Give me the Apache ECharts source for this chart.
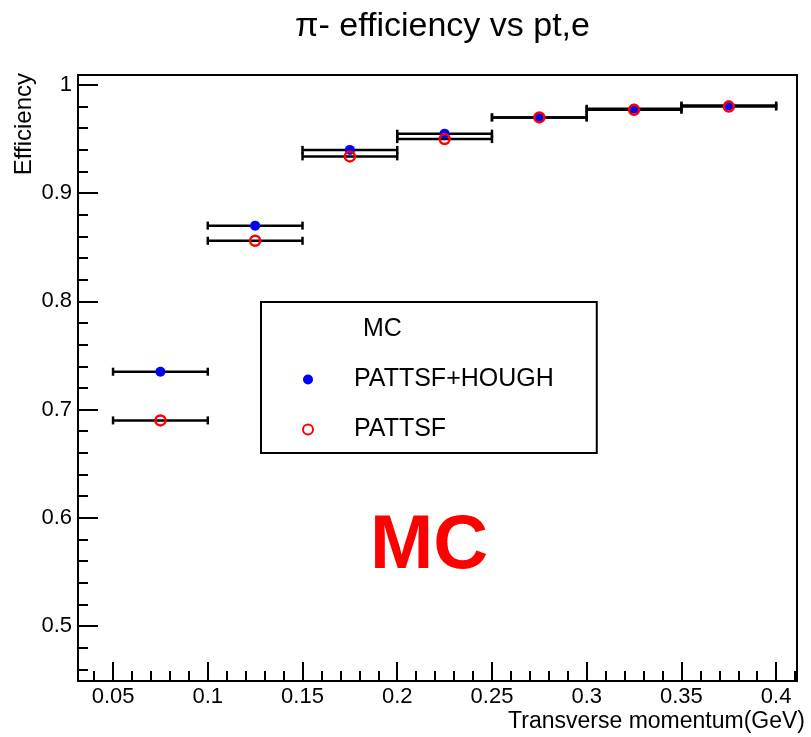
<!DOCTYPE html>
<html><head><meta charset="utf-8">
<script src="https://cdn.jsdelivr.net/npm/echarts@6/dist/echarts.min.js"></script>
<style>html,body{margin:0;padding:0;background:#fff}#c{width:811px;height:737px}</style>
</head><body><div id="c"></div>
<script>
// ---- data ----
const binEdges = [0.05, 0.10, 0.15, 0.20, 0.25, 0.30, 0.35, 0.40];
const effHough = [0.735, 0.870, 0.940, 0.955, 0.970, 0.978, 0.981];
const effPattsf = [0.690, 0.856, 0.934, 0.950, 0.970, 0.977, 0.980];
const seriesNames = ['PATTSF+HOUGH', 'PATTSF'];
const xTickLabels = [0.05, 0.1, 0.15, 0.2, 0.25, 0.3, 0.35, 0.4];
const yTickLabels = [0.5, 0.6, 0.7, 0.8, 0.9, 1];
const xMinorTicks = [0.04,0.06,0.07,0.08,0.09,0.11,0.12,0.13,0.14,0.16,0.17,0.18,0.19,0.21,0.22,0.23,0.24,0.26,0.27,0.28,0.29,0.31,0.32,0.33,0.34,0.36,0.37,0.38,0.39,0.41];
const yMinorTicks = [0.46,0.48,0.52,0.54,0.56,0.58,0.62,0.64,0.66,0.68,0.72,0.74,0.76,0.78,0.82,0.84,0.86,0.88,0.92,0.94,0.96,0.98];
const titleText = 'π- efficiency vs pt,e';
const xTitle = 'Transverse momentum(GeV)';
const yTitle = 'Efficiency';
const legendHeader = 'MC';
const stamp = 'MC';

const X_MIN = 0.0315, X_MAX = 0.411, Y_MIN = 0.4492, Y_MAX = 1.0092;
const FONT = 'Liberation Sans, Arial, Helvetica, sans-serif';

function errData(vals) {
  return vals.map((v, i) => [binEdges[i], binEdges[i + 1], v]);
}
function ptData(vals) {
  return vals.map((v, i) => [(binEdges[i] + binEdges[i + 1]) / 2, v]);
}
function renderErr(params, api) {
  const p1 = api.coord([api.value(0), api.value(2)]);
  const p2 = api.coord([api.value(1), api.value(2)]);
  const cap = 4;
  const style = { stroke: '#000', lineWidth: 2.5 };
  return { type: 'group', children: [
    { type: 'line', shape: { x1: p1[0], y1: p1[1], x2: p2[0], y2: p2[1] }, style },
    { type: 'line', shape: { x1: p1[0], y1: p1[1] - cap, x2: p1[0], y2: p1[1] + cap }, style },
    { type: 'line', shape: { x1: p2[0], y1: p2[1] - cap, x2: p2[0], y2: p2[1] + cap }, style }
  ]};
}

const chart = echarts.init(document.getElementById('c'), null, { renderer: 'canvas' });
const axisCommon = { lineStyle: { color: '#000', width: 2 } };
chart.setOption({
  animation: false,
  backgroundColor: '#fff',
  title: {
    text: titleText, left: 295, top: 10, padding: 0,
    textStyle: { fontFamily: FONT, fontSize: 34, fontWeight: 'normal', color: '#000' }
  },
  grid: {
    left: 78, right: 14, top: 75, bottom: 56, containLabel: false, outerBoundsMode: 'none',
    show: true, borderColor: '#000', borderWidth: 2, backgroundColor: '#fff'
  },
  xAxis: [{
    type: 'value', min: X_MIN, max: X_MAX, position: 'bottom',
    axisLine: { show: true, onZero: false, ...axisCommon },
    splitLine: { show: false },
    axisTick: { show: true, inside: true, length: 19, customValues: xTickLabels, lineStyle: { color: '#000', width: 2 } },
    axisLabel: { show: true, customValues: xTickLabels, margin: 5, color: '#000', fontFamily: FONT, fontSize: 22 }
  }, {
    type: 'value', min: X_MIN, max: X_MAX, position: 'bottom', gridIndex: 0,
    axisLine: { show: false }, splitLine: { show: false },
    axisTick: { show: true, inside: true, length: 10, customValues: xMinorTicks, lineStyle: { color: '#000', width: 2 } },
    axisLabel: { show: false }
  }],
  yAxis: [{
    type: 'value', min: Y_MIN, max: Y_MAX, position: 'left',
    axisLine: { show: true, onZero: false, ...axisCommon },
    splitLine: { show: false },
    axisTick: { show: true, inside: true, length: 20, customValues: yTickLabels, lineStyle: { color: '#000', width: 2 } },
    axisLabel: { show: true, customValues: yTickLabels, margin: 6, color: '#000', fontFamily: FONT, fontSize: 22 }
  }, {
    type: 'value', min: Y_MIN, max: Y_MAX, position: 'left', gridIndex: 0,
    axisLine: { show: false }, splitLine: { show: false },
    axisTick: { show: true, inside: true, length: 10, customValues: yMinorTicks, lineStyle: { color: '#000', width: 2 } },
    axisLabel: { show: false }
  }],
  legend: {
    orient: 'vertical', left: 261, top: 302,
    padding: [15, 43, 11, 41],
    itemWidth: 82, itemHeight: 10, itemGap: 25,
    selectedMode: false,
    backgroundColor: '#fff', borderColor: '#000', borderWidth: 2,
    textStyle: { fontFamily: FONT, fontSize: 25, color: '#000', lineHeight: 24 },
    data: [
      { name: legendHeader, icon: 'circle', itemStyle: { color: 'rgba(0,0,0,0)', borderWidth: 0 }, textStyle: { padding: [0, 0, 0, 9] } },
      { name: seriesNames[0], icon: 'circle', itemStyle: { color: '#0000ff', borderWidth: 0 } },
      { name: seriesNames[1], icon: 'circle', itemStyle: { color: 'rgba(0,0,0,0)', borderColor: '#ff0000', borderWidth: 2 } }
    ]
  },
  graphic: [
    { type: 'text', x: 24, y: 73, rotation: Math.PI / 2, z: 10,
      style: { text: yTitle, align: 'right', verticalAlign: 'middle', fill: '#000', font: '24px ' + FONT } },
    { type: 'text', x: 805, y: 722, z: 10,
      style: { text: xTitle, align: 'right', verticalAlign: 'middle', fill: '#000', font: '23px ' + FONT } },
    { type: 'text', x: 429, y: 547, z: 10,
      style: { text: stamp, align: 'center', verticalAlign: 'middle', fill: '#ff0000', font: 'bold 76px ' + FONT } }
  ],
  series: [
    { type: 'custom', name: 'errHough', renderItem: renderErr, data: errData(effHough), encode: { x: [0, 1], y: 2 }, z: 2, silent: true },
    { type: 'custom', name: 'errPattsf', renderItem: renderErr, data: errData(effPattsf), encode: { x: [0, 1], y: 2 }, z: 2, silent: true },
    { type: 'scatter', name: seriesNames[0], data: ptData(effHough), symbol: 'circle', symbolSize: 10,
      itemStyle: { color: '#0000ff', opacity: 1 }, z: 3 },
    { type: 'scatter', name: seriesNames[1], data: ptData(effPattsf), symbol: 'circle', symbolSize: 10,
      itemStyle: { color: 'rgba(0,0,0,0)', borderColor: '#ff0000', borderWidth: 2.5, opacity: 1 }, z: 4 },
    { type: 'scatter', name: legendHeader, data: [], itemStyle: { color: 'rgba(0,0,0,0)' } }
  ]
});
</script>
</body></html>
